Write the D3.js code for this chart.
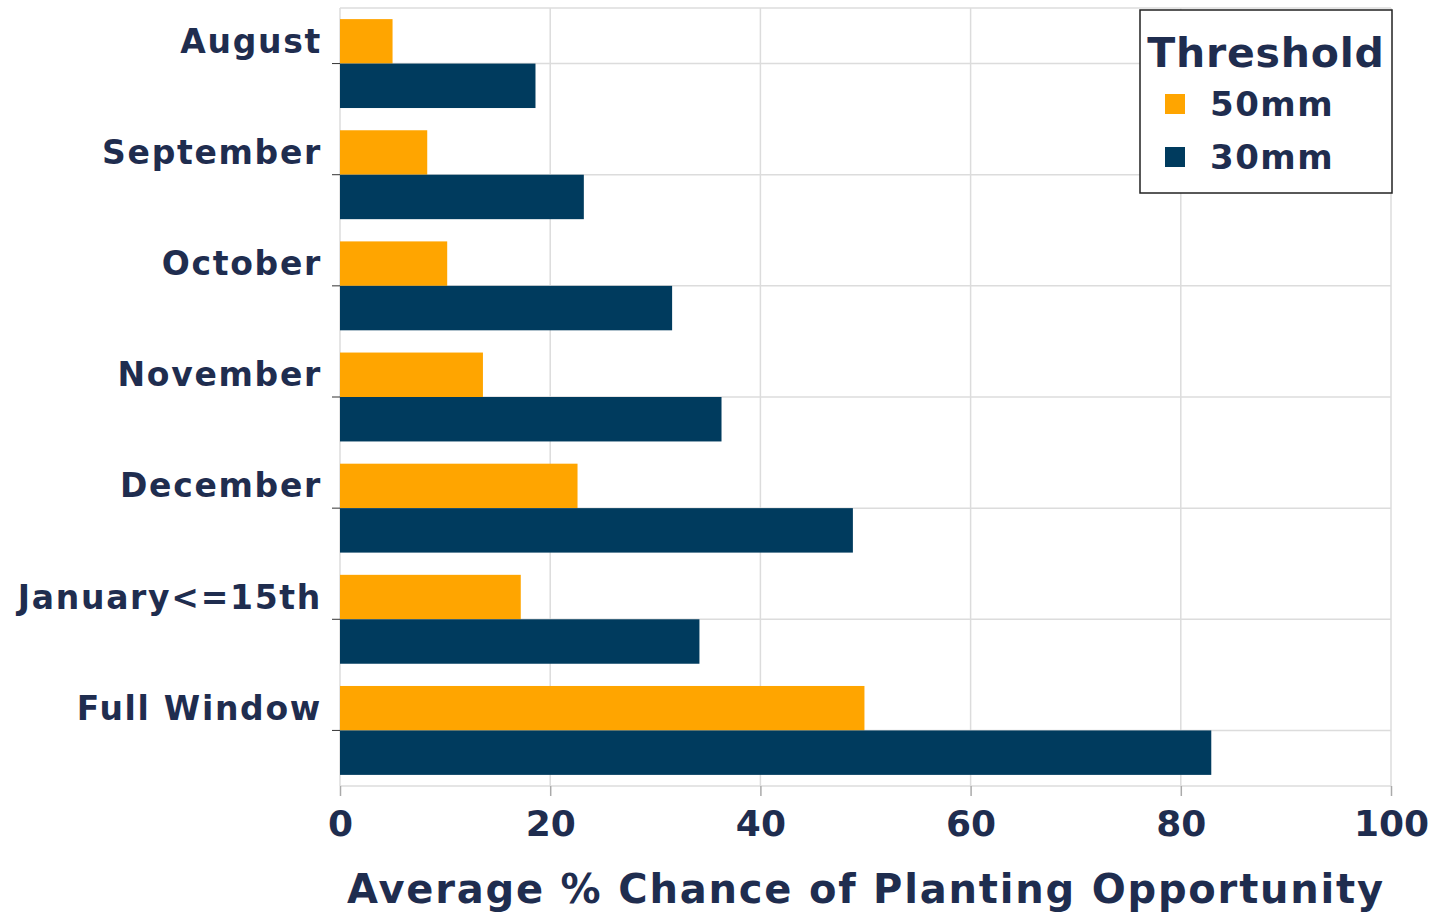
<!DOCTYPE html>
<html>
<head>
<meta charset="utf-8">
<script src="https://cdn.jsdelivr.net/npm/d3@7"></script>
<style>
  html, body { margin: 0; padding: 0; background: #fff; }
  svg text { font-family: "DejaVu Sans", "Liberation Sans", Arial, sans-serif; font-weight: bold; fill: #1f2d4f; }
</style>
</head>
<body>
<svg id="chart" width="1432" height="916"></svg>
<script>
// Planting windows and average % chance of a planting opportunity per rainfall threshold
const categories = ["August", "September", "October", "November", "December", "January<=15th", "Full Window"];
const series = ["50mm", "30mm"];
const values50 = [5.0, 8.3, 10.2, 13.6, 22.6, 17.2, 49.9];
const values30 = [18.6, 23.2, 31.6, 36.3, 48.8, 34.2, 82.9];
const xTicks = [0, 20, 40, 60, 80, 100];
const colors = ["#ffa500", "#003b5e"];

const margin = { left: 340, right: 41, top: 8, bottom: 130 };
const W = 1432, H = 916;
const svg = d3.select("#chart");

const x = d3.scaleLinear().domain([0, 100]).range([margin.left, W - margin.right]);
const y = d3.scaleBand().domain(categories).range([margin.top, H - margin.bottom]).paddingInner(0.2).paddingOuter(0.1);
const yInner = d3.scaleBand().domain(series).range([0, y.bandwidth()]);
const color = d3.scaleOrdinal().domain(series).range(colors);

const plotTop = margin.top, plotBottom = H - margin.bottom;
const grid = svg.append("g").attr("stroke", "#dcdcdc").attr("stroke-width", 1.5);

// vertical gridlines
grid.selectAll("line.v").data(xTicks).join("line")
  .attr("x1", d => x(d)).attr("x2", d => x(d))
  .attr("y1", plotTop).attr("y2", plotBottom);
// horizontal gridlines at category centres plus frame edges
const hLines = [plotTop, plotBottom].concat(categories.map(c => y(c) + y.bandwidth() / 2));
grid.selectAll("line.h").data(hLines).join("line")
  .attr("x1", x(0)).attr("x2", x(100))
  .attr("y1", d => d).attr("y2", d => d);

// bars
const rows = categories.map((c, i) => ({ cat: c, vals: [values50[i], values30[i]] }));
svg.append("g").selectAll("g").data(rows).join("g")
  .attr("transform", d => `translate(0,${y(d.cat)})`)
  .selectAll("rect").data(d => d.vals.map((v, j) => ({ key: series[j], v })))
  .join("rect")
  .attr("x", x(0))
  .attr("y", d => yInner(d.key))
  .attr("width", d => x(d.v) - x(0))
  .attr("height", yInner.bandwidth())
  .attr("fill", d => color(d.key));

// y axis: ticks at category centres, labels raised beside the first bar
const yAxis = svg.append("g").attr("transform", `translate(${x(0)},0)`)
  .call(d3.axisLeft(y).tickSize(8).tickFormat(""));
yAxis.select(".domain").remove();
yAxis.selectAll(".tick line").attr("stroke", "#333").attr("stroke-width", 1);
svg.append("g").selectAll("text").data(categories).join("text")
  .attr("x", 322)
  .attr("y", d => y(d) + yInner("50mm") + yInner.bandwidth() / 2)
  .attr("dy", "0.35em")
  .attr("text-anchor", "end")
  .attr("font-size", 33)
  .attr("letter-spacing", 1.7)
  .text(d => d);

// x axis
const xAxis = svg.append("g").attr("transform", `translate(0,${plotBottom})`)
  .call(d3.axisBottom(x).tickValues(xTicks).tickSize(10).tickPadding(14));
xAxis.select(".domain").remove();
xAxis.selectAll(".tick line").attr("stroke", "#aaa").attr("stroke-width", 1.5);
xAxis.selectAll(".tick text").attr("font-size", 36).attr("fill", "#1f2d4f")
  .attr("font-family", "'DejaVu Sans', 'Liberation Sans', Arial, sans-serif").attr("font-weight", "bold");

svg.append("text")
  .attr("x", 866).attr("y", 903)
  .attr("text-anchor", "middle")
  .attr("font-size", 40)
  .attr("letter-spacing", 1.8)
  .text("Average % Chance of Planting Opportunity");

// legend
const lg = svg.append("g").attr("transform", "translate(1140,10)");
lg.append("rect").attr("width", 252).attr("height", 183)
  .attr("fill", "#fff").attr("stroke", "#222").attr("stroke-width", 1.5);
lg.append("text").attr("x", 126).attr("y", 57).attr("text-anchor", "middle")
  .attr("font-size", 41).attr("letter-spacing", 0.8).text("Threshold");
series.forEach((s, i) => {
  lg.append("rect").attr("x", 25).attr("y", 84 + i * 53).attr("width", 20).attr("height", 20)
    .attr("fill", color(s));
  lg.append("text").attr("x", 70).attr("y", 94 + i * 53).attr("dy", "0.35em")
    .attr("font-size", 34).attr("letter-spacing", 1.5).text(s);
});
</script>
</body>
</html>
